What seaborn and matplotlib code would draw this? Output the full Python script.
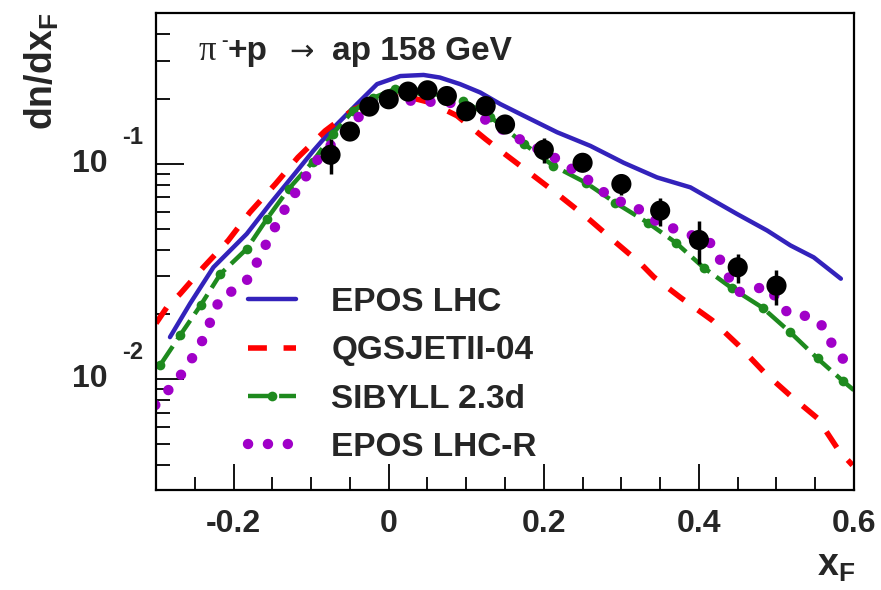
import numpy as np
import pandas as pd
import seaborn as sns
import matplotlib.pyplot as plt
import matplotlib.ticker as ticker

# ---- data ----
# data points, pi- + p -> antiproton, 158 GeV
data_x = [-0.075, -0.05, -0.025, 0.0, 0.025, 0.05, 0.075, 0.1, 0.125, 0.15,
          0.2, 0.25, 0.3, 0.35, 0.4, 0.45, 0.5]
data_y = [0.110, 0.141, 0.184, 0.199, 0.216, 0.219, 0.206, 0.175, 0.185, 0.152,
          0.116, 0.101, 0.0805, 0.0606, 0.0443, 0.0331, 0.0272]
data_err = [0.020, 0.006, 0.005, 0.005, 0.005, 0.005, 0.005, 0.006, 0.006, 0.006,
            0.015, 0.008, 0.009, 0.009, 0.010, 0.005, 0.005]

epos_x = [-0.282, -0.256, -0.226, -0.183, -0.153, -0.118, -0.097, -0.071, -0.041, -0.015,
          0.015, 0.045, 0.066, 0.092, 0.118, 0.144, 0.174, 0.217, 0.260, 0.303,
          0.346, 0.389, 0.449, 0.488, 0.518, 0.548, 0.583]
epos_y = [0.0157, 0.0225, 0.0331, 0.0473, 0.0651, 0.0928, 0.115, 0.147, 0.189, 0.234,
          0.255, 0.258, 0.251, 0.234, 0.214, 0.189, 0.167, 0.140, 0.121, 0.101,
          0.0864, 0.0777, 0.0585, 0.049, 0.0418, 0.0368, 0.0293]

qgs_x = [-0.300, -0.286, -0.269, -0.239, -0.207, -0.179, -0.146, -0.117, -0.082, -0.045,
         -0.015, 0.010, 0.030, 0.054, 0.088, 0.125, 0.144, 0.183, 0.217, 0.256,
         0.290, 0.325, 0.342, 0.376, 0.417, 0.451, 0.484, 0.518, 0.553, 0.580, 0.598]
qgs_y = [0.0182, 0.0216, 0.0249, 0.0331, 0.0440, 0.0595, 0.0806, 0.107, 0.142, 0.179,
         0.198, 0.204, 0.202, 0.192, 0.167, 0.130, 0.115, 0.090, 0.0726, 0.0562,
         0.0440, 0.0344, 0.0298, 0.0240, 0.0188, 0.0144, 0.0108, 0.0084, 0.0066, 0.0047, 0.0040]

sib_x = [-0.295, -0.269, -0.242, -0.217, -0.183, -0.157, -0.129, -0.098, -0.072, -0.046,
         -0.020, 0.008, 0.041, 0.096, 0.131, 0.174, 0.212, 0.254, 0.292, 0.334,
         0.370, 0.406, 0.443, 0.482, 0.518, 0.553, 0.586, 0.600]
sib_y = [0.0116, 0.0160, 0.0222, 0.0308, 0.0403, 0.0555, 0.0764, 0.102, 0.138, 0.176,
         0.202, 0.222, 0.218, 0.196, 0.165, 0.124, 0.098, 0.0817, 0.066, 0.0533,
         0.0431, 0.033, 0.0264, 0.0215, 0.0165, 0.0125, 0.0098, 0.0089]

eposr_x = [-0.301, -0.271, -0.244, -0.226, -0.217, -0.196, -0.180, -0.159, -0.137, -0.112,
           -0.085, -0.067, -0.035, -0.017, 0.008, 0.028, 0.051, 0.094, 0.109, 0.131,
           0.172, 0.215, 0.254, 0.290, 0.314, 0.353, 0.374, 0.417, 0.448, 0.466,
           0.486, 0.501, 0.515, 0.537, 0.556, 0.579, 0.600]
eposr_y = [0.0076, 0.0101, 0.0141, 0.0200, 0.0240, 0.0263, 0.0295, 0.0418, 0.0591, 0.0819,
           0.113, 0.129, 0.170, 0.196, 0.205, 0.196, 0.194, 0.190, 0.173, 0.155,
           0.128, 0.106, 0.0859, 0.068, 0.0646, 0.0516, 0.0494, 0.0425, 0.0254, 0.0256,
           0.0272, 0.0237, 0.0202, 0.0197, 0.0184, 0.0131, 0.0112]

labels = ["EPOS LHC", "QGSJETII-04", "SIBYLL 2.3d", "EPOS LHC-R"]
colors = ["#3322bb", "#ff0000", "#1e8a1e", "#a000c8"]

sns.set_style("ticks")
plt.rcParams['font.family'] = ['Liberation Sans', 'DejaVu Sans']
plt.rcParams['font.weight'] = 'bold'
plt.rcParams['axes.unicode_minus'] = False
plt.rcParams['mathtext.fontset'] = 'custom'
plt.rcParams['mathtext.rm'] = 'Liberation Sans:bold'
plt.rcParams['mathtext.it'] = 'Liberation Sans:bold'
plt.rcParams['mathtext.bf'] = 'Liberation Sans:bold'

fig = plt.figure(figsize=(8.81, 5.90), dpi=100)
ax = fig.add_axes([0.1771, 0.1695, 0.7923, 0.8085])

sns.lineplot(x=epos_x, y=epos_y, ax=ax, color=colors[0], lw=3.2, sort=False,
             estimator=None, label=labels[0])
sns.lineplot(x=qgs_x, y=qgs_y, ax=ax, color=colors[1], lw=4, sort=False,
             estimator=None, linestyle=(0, (3.4, 3.0)), label=labels[1])
sns.lineplot(x=sib_x, y=sib_y, ax=ax, color=colors[2], lw=3.2, sort=False,
             estimator=None, linestyle=(0, (5.2, 1.8)), marker='o', markersize=7,
             markeredgewidth=0, markevery=slice(0, len(sib_x) - 1), label=labels[2])
sns.lineplot(x=eposr_x, y=eposr_y, ax=ax, color=colors[3], lw=7.5, sort=False,
             estimator=None, linestyle=(0, (0.01, 1.9)), dash_capstyle='round',
             label=labels[3])

ax.errorbar(data_x, data_y, yerr=data_err, fmt='none', ecolor='k', elinewidth=2.5, capsize=0)
sns.scatterplot(x=data_x, y=data_y, ax=ax, color='k', s=210, edgecolor='none', zorder=5)

ax.set_yscale('log')
ax.set_xlim(-0.3, 0.6)
ax.set_ylim(0.00307, 0.5)

ax.xaxis.set_major_locator(ticker.MultipleLocator(0.2))
ax.xaxis.set_minor_locator(ticker.MultipleLocator(0.05))
ax.xaxis.set_major_formatter(ticker.FuncFormatter(lambda v, p: "%g" % round(v, 3)))
ax.yaxis.set_major_locator(ticker.FixedLocator([0.01, 0.1]))
ax.yaxis.set_minor_locator(ticker.LogLocator(base=10, subs=np.arange(2, 10)))
ax.yaxis.set_minor_formatter(ticker.NullFormatter())
ax.tick_params(which='both', direction='in', top=False, right=False, width=1.3, color='k')
ax.tick_params(axis='x', which='major', length=19, labelsize=23, pad=14)
ax.tick_params(axis='x', which='minor', length=9.5)
ax.tick_params(axis='y', which='major', length=20, labelleft=False)
ax.tick_params(axis='y', which='minor', length=10)
for s in ax.spines.values():
    s.set_linewidth(1.6)
    s.set_color('k')
ax.set_xlabel("")
ax.set_ylabel("")

# ROOT-style y tick labels
for val, exp in [(0.1, "-1"), (0.01, "-2")]:
    ax.annotate("10", xy=(0, val), xycoords=('axes fraction', 'data'), xytext=(-48, 0),
                textcoords='offset points', ha='center', va='center', fontsize=23)
    ax.annotate(exp, xy=(0, val), xycoords=('axes fraction', 'data'), xytext=(-24.5, 19),
                textcoords='offset points', ha='left', va='center', fontsize=17)

fig.text(42 / 881, 1 - 13 / 590, "dn/dx$_{F}$", rotation=90, ha='center', va='top', fontsize=27)
fig.text(855 / 881, (590 - 576) / 590, "x$_{F}$", ha='right', va='baseline', fontsize=27)

# title
fig.text(199 / 881, 1 - 60 / 590, "\u03c0", family=['Liberation Serif', 'DejaVu Serif'],
         weight='normal', fontsize=25, va='baseline')
fig.text(221 / 881, 1 - 46 / 590, "-", fontsize=14, va='baseline')
fig.text(228 / 881, 1 - 60 / 590, "+p", fontsize=24, va='baseline')
fig.text(289 / 881, 1 - 60 / 590, "\u2192", family='DejaVu Sans', weight='normal',
         fontsize=21, va='baseline')
fig.text(332 / 881, 1 - 60 / 590, "ap 158 GeV", fontsize=24, va='baseline')

h, l = ax.get_legend_handles_labels()
ax.legend(h[:4], l[:4], loc='upper left', bbox_to_anchor=(0.132, 0.4256), frameon=False,
          fontsize=24, handlelength=1.45, handletextpad=1.05, labelspacing=0.52,
          borderpad=0, borderaxespad=0)

fig.savefig("out.png", dpi=100)
